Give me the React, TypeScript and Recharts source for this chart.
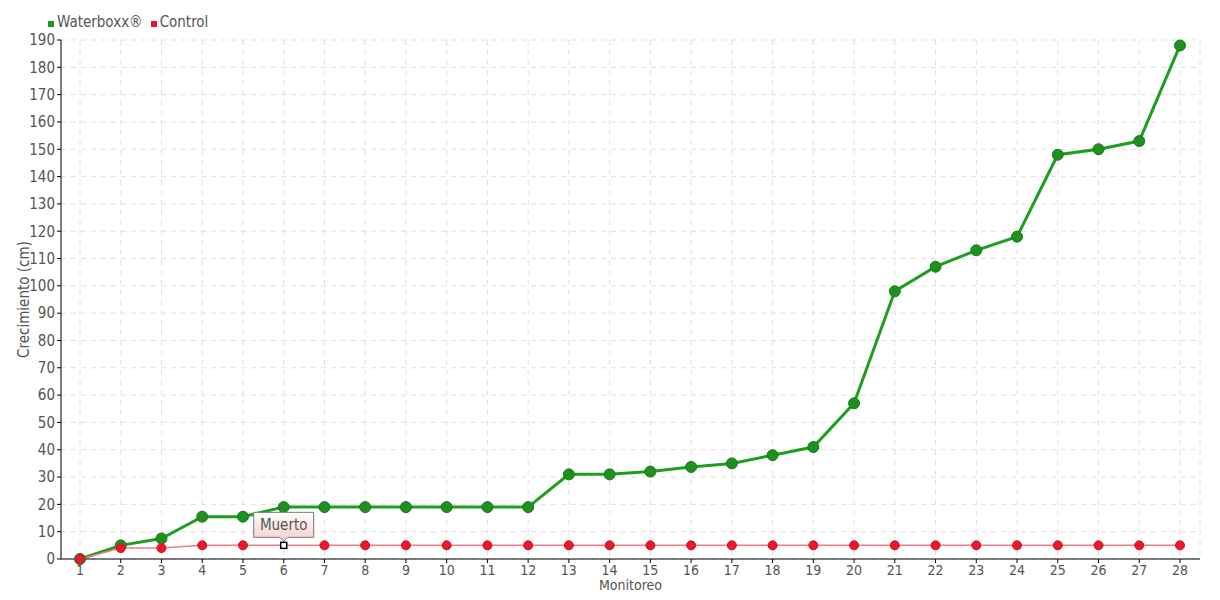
import { LineChart, Line, XAxis, YAxis, CartesianGrid, Legend } from 'recharts';

const monitoreos = ['1', '2', '3', '4', '5', '6', '7', '8', '9', '10', '11', '12', '13', '14', '15', '16', '17', '18', '19', '20', '21', '22', '23', '24', '25', '26', '27', '28'];
const waterboxx = [0, 5, 7.5, 15.5, 15.5, 19, 19, 19, 19, 19, 19, 19, 31, 31, 32, 33.7, 35, 38, 41, 57, 98, 107, 113, 118, 148, 150, 153, 188];
const control = [0, 4, 4, 5, 5, 5, 5, 5, 5, 5, 5, 5, 5, 5, 5, 5, 5, 5, 5, 5, 5, 5, 5, 5, 5, 5, 5, 5];
const yTicks = [0, 10, 20, 30, 40, 50, 60, 70, 80, 90, 100, 110, 120, 130, 140, 150, 160, 170, 180, 190];
const deadIndex = 5;
const deadLabel = 'Muerto';

const data = monitoreos.map((m, i) => ({ m, waterboxx: waterboxx[i], control: control[i] }));

const FONT = '"Liberation Sans Narrow", "DejaVu Sans Condensed", sans-serif';
const TXT = '#555';

const ControlDot = (props: any) => {
  const { cx, cy, index } = props;
  if (index === deadIndex) {
    return (
      <g key={`cd-${index}`}>
        <defs>
          <linearGradient id="muertoGrad" x1="0" y1="0" x2="0" y2="1">
            <stop offset="0%" stopColor="#ffffff" />
            <stop offset="100%" stopColor="#f6cccc" />
          </linearGradient>
        </defs>
        <path
          d={`M${cx - 30},${cy - 33} L${cx + 30},${cy - 33} L${cx + 30},${cy - 8} L${cx + 4},${cy - 8} L${cx},${cy - 4} L${cx - 4},${cy - 8} L${cx - 30},${cy - 8} Z`}
          fill="url(#muertoGrad)"
          stroke="#777"
          strokeWidth={1}
        />
        <text x={cx} y={cy - 15} textAnchor="middle" fontSize={15} fill={TXT} fontFamily={FONT}>{deadLabel}</text>
        <rect x={cx - 3} y={cy - 3} width={6} height={6} fill="#fff" stroke="#000" strokeWidth={1.5} />
      </g>
    );
  }
  return <circle key={`cd-${index}`} cx={cx} cy={cy} r={4.5} fill="#e8192c" stroke="#d01020" strokeWidth={1} />;
};

const renderLegend = () => (
  <div style={{ fontFamily: FONT, fontSize: 15, color: TXT, display: 'flex', gap: 8, paddingLeft: 48 }}>
    <span><span style={{ display: 'inline-block', width: 6, height: 6, background: '#1a9a1a', marginRight: 3 }} />Waterboxx®</span>
    <span><span style={{ display: 'inline-block', width: 6, height: 6, background: '#e8192c', marginRight: 3 }} />Control</span>
  </div>
);

export default function App() {
  return (
    <div style={{ width: 1220, height: 600, background: '#fff' }}>
      <style>{`body{margin:0}`}</style>
      <LineChart width={1220} height={600} data={data} margin={{ top: 22, right: 20, bottom: 1, left: 0 }}>
        <CartesianGrid stroke="#e0e0e0" strokeDasharray="5 5" />
        <XAxis
          dataKey="m"
          height={40}
          stroke="#000"
          tickSize={4}
          padding={{ left: 19, right: 20 }}
          tick={{ fill: TXT, fontSize: 14, fontFamily: FONT }}
          interval={0}
          label={{ value: 'Monitoreo', position: 'insideBottom', offset: 9, fill: TXT, fontSize: 14, fontFamily: FONT }}
        />
        <YAxis
          width={61}
          domain={[0, 190]}
          ticks={yTicks}
          interval={0}
          stroke="#000"
          tickSize={4}
          tick={{ fill: TXT, fontSize: 15, fontFamily: FONT }}
          label={{ value: 'Crecimiento (cm)', angle: -90, position: 'insideLeft', offset: 24, fill: TXT, fontSize: 15, fontFamily: FONT, style: { textAnchor: 'middle' } }}
        />
        <Legend verticalAlign="top" align="left" content={renderLegend} wrapperStyle={{ top: 13, left: 0 }} />
        <Line
          type="linear"
          dataKey="waterboxx"
          name="Waterboxx®"
          stroke="#1e9e1e"
          strokeWidth={3}
          dot={{ r: 5.5, fill: '#1f8f1f', stroke: '#187a18', strokeWidth: 1 }}
          isAnimationActive={false}
        />
        <Line
          type="linear"
          dataKey="control"
          name="Control"
          stroke="#f27a88"
          strokeWidth={1.5}
          dot={ControlDot}
          isAnimationActive={false}
        />
      </LineChart>
    </div>
  );
}
